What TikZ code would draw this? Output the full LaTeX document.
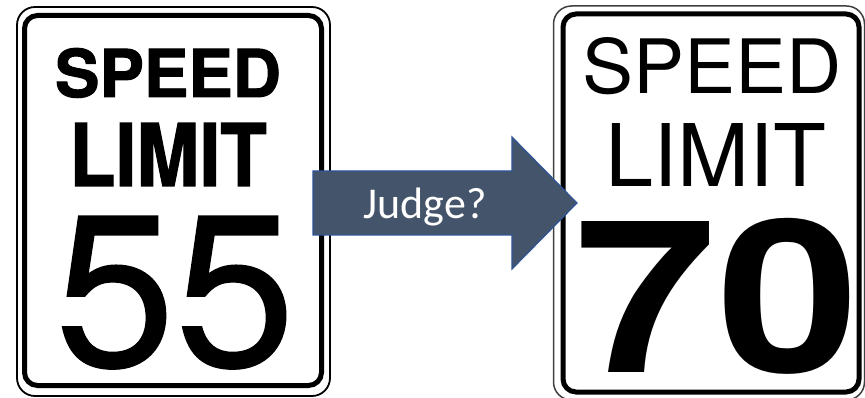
\documentclass[tikz,border=0pt]{standalone}
\usepackage{fontspec}
\newfontfamily\helfont{TeX Gyre Heros}
\newfontfamily\helheavy{TeX Gyre Heros}[BoldFeatures={FakeBold=1.5}]
\newfontfamily\helmedium{TeX Gyre Heros}[FakeBold=0.6]
\newfontfamily\calfont{Carlito}
\definecolor{arrowfill}{HTML}{44546A}
\definecolor{arrowedge}{HTML}{2F5597}
\begin{document}
\begin{tikzpicture}[x=1pt,y=-1pt,
  thinframe/.style={draw=black, line width=1.8pt, rounded corners=18pt, inner sep=0pt},
  thickframe/.style={draw=black, line width=5pt, rounded corners=13pt, inner sep=0pt},
  signtext/.style={inner sep=0pt, outer sep=0pt, anchor=base, text=black},
  judgearrow/.style={fill=arrowfill, draw=arrowedge, line width=1.2pt, line join=miter}]
\useasboundingbox (0,0) rectangle (865,398);
\fill[white] (0,0) rectangle (865,398);
% left sign
\node[thinframe, minimum width=313pt, minimum height=389pt] (Lout) at (173.5,201.5) {};
\node[thickframe, minimum width=297pt, minimum height=370pt] (Lin) at (173,200.5) {};
\node[signtext, font=\helheavy\bfseries\fontsize{66}{66}\selectfont] (Lspeed) at (168,97) {\scalebox{1.01}[1]{SPEED}};
\node[signtext, font=\helheavy\bfseries\fontsize{72}{72}\selectfont] (Llimit) at (168,186) {\scalebox{1.05}[1.2]{LIMIT}};
\node[signtext, font=\helmedium\fontsize{216}{216}\selectfont] (Lnum) at (175,366) {55};
% right sign
\node[thinframe, draw=black!75, line width=1.5pt, minimum width=311pt, minimum height=394pt] (Rout) at (709,203) {};
\node[thickframe, minimum width=296pt, minimum height=378pt] (Rin) at (711,203) {};
\node[signtext, font=\helfont\fontsize{75}{75}\selectfont] (Rspeed) at (712,94) {\scalebox{1.02}[1]{SPEED}};
\node[signtext, font=\helfont\fontsize{80}{80}\selectfont] (Rlimit) at (716,187) {\scalebox{1.08}[1.08]{LIMIT}};
\node[signtext, font=\helfont\bfseries\fontsize{213}{213}\selectfont] (Rnum) at (717,372) {\scalebox{1.2}[1]{70}};
% arrow
\draw[judgearrow] (313,171) -- (512,171) -- (512,137) -- (577,203) -- (512,269) -- (512,235) -- (313,235) -- cycle;
\node[inner sep=0pt, anchor=base, text=white, font=\calfont\fontsize{44}{44}\selectfont] (judge) at (425,219) {Judge?};
\end{tikzpicture}
\end{document}
